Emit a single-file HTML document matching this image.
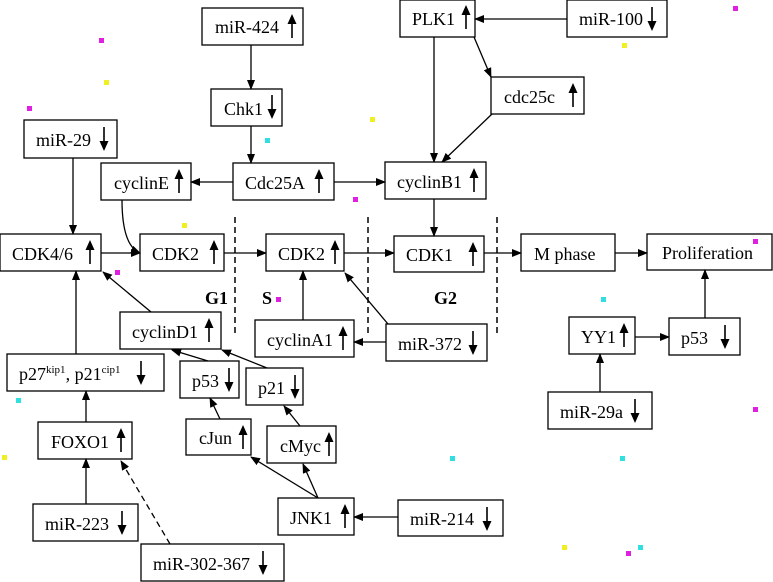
<!DOCTYPE html>
<html><head><meta charset="utf-8"><style>
html,body{margin:0;padding:0;background:#fff;}
svg{display:block;font-family:"Liberation Serif",serif;}
text{font-size:18px;fill:#000;}
</style></head><body>
<svg width="773" height="582" viewBox="0 0 773 582" xmlns="http://www.w3.org/2000/svg">
<defs>
<marker id="a" markerWidth="10" markerHeight="8" refX="9" refY="4" orient="auto" markerUnits="userSpaceOnUse"><path d="M0,0 L10,4 L0,8 z" fill="#000"/></marker>
<g id="up"><line x1="0" y1="24" x2="0" y2="6" stroke="#000" stroke-width="1.6"/><path d="M-4.5,10 L0,0 L4.5,10 z" fill="#000"/></g>
<g id="dn"><line x1="0" y1="0" x2="0" y2="18" stroke="#000" stroke-width="1.6"/><path d="M-4.5,14 L0,24 L4.5,14 z" fill="#000"/></g>
</defs>
<g fill="none" stroke="#000" stroke-width="1.3">
<rect x="202" y="8" width="101" height="37"/>
<rect x="211" y="89" width="71" height="37"/>
<rect x="24" y="120" width="93" height="38"/>
<rect x="101" y="163" width="90" height="37"/>
<rect x="233" y="163" width="101" height="37"/>
<rect x="385" y="162" width="101" height="37"/>
<rect x="400" y="0" width="75" height="37"/>
<rect x="567" y="0" width="100" height="37"/>
<rect x="491" y="77" width="93" height="37"/>
<rect x="0" y="234" width="101" height="37"/>
<rect x="140" y="234" width="84" height="37"/>
<rect x="266" y="234" width="78" height="37"/>
<rect x="394" y="236" width="90" height="36"/>
<rect x="521" y="234" width="94" height="37"/>
<rect x="647" y="234" width="125" height="36"/>
<rect x="120" y="312" width="101" height="37"/>
<rect x="255" y="320" width="99" height="37"/>
<rect x="386" y="324" width="101" height="37"/>
<rect x="7" y="354" width="157" height="37"/>
<rect x="180" y="361" width="59" height="37"/>
<rect x="246" y="368" width="57" height="37"/>
<rect x="186" y="419" width="65" height="36"/>
<rect x="267" y="426" width="69" height="37"/>
<rect x="38" y="422" width="94" height="37"/>
<rect x="278" y="498" width="76" height="37"/>
<rect x="398" y="500" width="105" height="36"/>
<rect x="33" y="504" width="105" height="37"/>
<rect x="141" y="544" width="143" height="37"/>
<rect x="569" y="317" width="66" height="37"/>
<rect x="669" y="318" width="71" height="37"/>
<rect x="548" y="392" width="104" height="37"/>
</g>
<g stroke="#000" stroke-width="1.3" fill="none" marker-end="url(#a)">
<line x1="251" y1="45" x2="251" y2="89"/>
<line x1="251" y1="126" x2="251" y2="163"/>
<line x1="233" y1="182" x2="191" y2="182"/>
<line x1="334" y1="182" x2="385" y2="182"/>
<line x1="567" y1="19" x2="475" y2="19"/>
<line x1="434" y1="37" x2="434" y2="162"/>
<line x1="474" y1="37" x2="491" y2="77"/>
<line x1="492" y1="114" x2="442" y2="162"/>
<line x1="434" y1="199" x2="434" y2="236"/>
<line x1="73" y1="158" x2="73" y2="234"/>
<path d="M122,200 C122,230 128,248 140,253"/>
<line x1="101" y1="253" x2="140" y2="253"/>
<line x1="224" y1="253" x2="266" y2="253"/>
<line x1="344" y1="253" x2="394" y2="253"/>
<line x1="484" y1="253" x2="521" y2="253"/>
<line x1="615" y1="253" x2="647" y2="253"/>
<line x1="705" y1="318" x2="705" y2="270"/>
<line x1="635" y1="337" x2="669" y2="337"/>
<line x1="600" y1="392" x2="600" y2="354"/>
<line x1="151" y1="312" x2="103" y2="272"/>
<line x1="76" y1="354" x2="76" y2="271"/>
<line x1="303" y1="320" x2="303" y2="271"/>
<line x1="388" y1="324" x2="345" y2="273"/>
<line x1="386" y1="342" x2="354" y2="342"/>
<line x1="208" y1="361" x2="172" y2="350"/>
<line x1="267" y1="368" x2="222" y2="350"/>
<line x1="220" y1="419" x2="210" y2="398"/>
<line x1="300" y1="426" x2="284" y2="406"/>
<line x1="318" y1="498" x2="251" y2="457"/>
<line x1="318" y1="498" x2="303" y2="464"/>
<line x1="398" y1="517" x2="354" y2="517"/>
<line x1="86" y1="422" x2="86" y2="391"/>
<line x1="86" y1="504" x2="86" y2="459"/>
<line x1="170" y1="544" x2="121" y2="461" stroke-dasharray="6,4"/>
</g>
<g stroke="#000" stroke-width="1.5" stroke-dasharray="6,4">
<line x1="235" y1="217" x2="235" y2="335"/>
<line x1="368" y1="217" x2="368" y2="335"/>
<line x1="497" y1="217" x2="497" y2="334"/>
</g>
<text x="205" y="304" font-weight="bold">G1</text>
<text x="262" y="304" font-weight="bold">S</text>
<text x="434" y="304" font-weight="bold">G2</text>
<text x="215" y="33">miR-424</text>
<text x="224" y="115">Chk1</text>
<text x="36" y="146">miR-29</text>
<text x="114" y="189">cyclinE</text>
<text x="245" y="189">Cdc25A</text>
<text x="397" y="188">cyclinB1</text>
<text x="412" y="25">PLK1</text>
<text x="579" y="25">miR-100</text>
<text x="504" y="103">cdc25c</text>
<text x="12" y="260">CDK4/6</text>
<text x="152" y="260">CDK2</text>
<text x="278" y="260">CDK2</text>
<text x="406" y="261">CDK1</text>
<text x="534" y="260">M phase</text>
<text x="662" y="259">Proliferation</text>
<text x="132" y="338">cyclinD1</text>
<text x="267" y="346">cyclinA1</text>
<text x="398" y="350">miR-372</text>
<text x="19" y="380">p27<tspan font-size="11" dy="-7">kip1</tspan><tspan dy="7">, p21</tspan><tspan font-size="11" dy="-7">cip1</tspan></text>
<text x="192" y="387">p53</text>
<text x="258" y="394">p21</text>
<text x="199" y="444">cJun</text>
<text x="280" y="452">cMyc</text>
<text x="51" y="448">FOXO1</text>
<text x="290" y="524">JNK1</text>
<text x="410" y="525">miR-214</text>
<text x="45" y="530">miR-223</text>
<text x="153" y="570">miR-302-367</text>
<text x="581" y="343">YY1</text>
<text x="681" y="344">p53</text>
<text x="560" y="418">miR-29a</text>
<use href="#up" x="292" y="14"/>
<use href="#dn" x="272" y="95"/>
<use href="#dn" x="104" y="127"/>
<use href="#up" x="179" y="169"/>
<use href="#up" x="319" y="169"/>
<use href="#up" x="474" y="168"/>
<use href="#up" x="466" y="5"/>
<use href="#dn" x="652" y="7"/>
<use href="#up" x="573" y="83"/>
<use href="#up" x="90" y="240"/>
<use href="#up" x="214" y="240"/>
<use href="#up" x="335" y="240"/>
<use href="#up" x="473" y="242"/>
<use href="#up" x="209" y="318"/>
<use href="#up" x="343" y="326"/>
<use href="#dn" x="473" y="331"/>
<use href="#dn" x="141" y="361"/>
<use href="#dn" x="229" y="368"/>
<use href="#dn" x="295" y="375"/>
<use href="#up" x="243" y="425"/>
<use href="#up" x="329" y="432"/>
<use href="#up" x="121" y="428"/>
<use href="#up" x="345" y="504"/>
<use href="#dn" x="487" y="507"/>
<use href="#dn" x="122" y="511"/>
<use href="#dn" x="263" y="551"/>
<use href="#up" x="624" y="323"/>
<use href="#dn" x="725" y="325"/>
<use href="#dn" x="635" y="399"/>
<g>
<rect x="99" y="38" width="5" height="5" fill="#e020e0"/>
<rect x="27" y="106" width="5" height="5" fill="#e020e0"/>
<rect x="104" y="80" width="5" height="5" fill="#f0f020"/>
<rect x="265" y="138" width="5" height="5" fill="#30e0e0"/>
<rect x="370" y="117" width="5" height="5" fill="#f0f020"/>
<rect x="353" y="197" width="5" height="5" fill="#e020e0"/>
<rect x="182" y="223" width="5" height="5" fill="#f0f020"/>
<rect x="115" y="270" width="5" height="5" fill="#e020e0"/>
<rect x="276" y="297" width="5" height="5" fill="#e020e0"/>
<rect x="16" y="398" width="5" height="5" fill="#30e0e0"/>
<rect x="2" y="455" width="5" height="5" fill="#f0f020"/>
<rect x="733" y="6" width="5" height="5" fill="#e020e0"/>
<rect x="622" y="43" width="5" height="5" fill="#f0f020"/>
<rect x="753" y="239" width="5" height="5" fill="#e020e0"/>
<rect x="601" y="297" width="5" height="5" fill="#30e0e0"/>
<rect x="753" y="407" width="5" height="5" fill="#e020e0"/>
<rect x="620" y="456" width="5" height="5" fill="#30e0e0"/>
<rect x="450" y="456" width="5" height="5" fill="#30e0e0"/>
<rect x="562" y="545" width="5" height="5" fill="#f0f020"/>
<rect x="626" y="551" width="5" height="5" fill="#e020e0"/>
<rect x="638" y="545" width="5" height="5" fill="#30e0e0"/>
</g>
</svg>
</body></html>
